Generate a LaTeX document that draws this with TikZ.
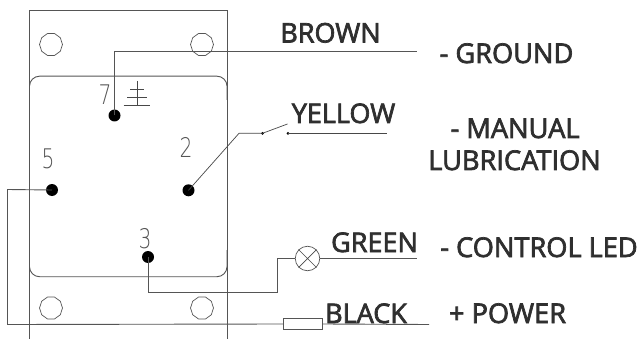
\documentclass[tikz,border=0pt]{standalone}
\usepackage{fontspec}
\setmainfont{Open Sans}
\newfontfamily\labfont{Open Sans}[FakeBold=2.6]
\newfontfamily\digfont{DejaVu Sans ExtraLight}
\usetikzlibrary{shapes.geometric}
\definecolor{ink}{HTML}{2F2F2F}
\definecolor{wire}{HTML}{555555}
\tikzset{
  wireline/.style={draw=wire,line width=.9pt},
  thinwire/.style={draw=wire!85!black,line width=.7pt},
  pin/.style={circle,fill=black,inner sep=0pt,minimum size=12pt},
  tinypin/.style={circle,fill=black,inner sep=0pt,minimum size=3pt},
  hole/.style={regular polygon,regular polygon sides=10,draw=wire,line width=.7pt,inner sep=0pt,minimum size=23pt,fill=none},
  lamp/.style={circle,draw=wire,line width=.7pt,inner sep=0pt,minimum size=24.5pt,fill=white},
  resist/.style={rectangle,draw=wire,line width=.9pt,inner sep=0pt,minimum width=39pt,minimum height=11pt,fill=white},
  lab/.style={text=ink,font=\labfont\fontsize{27}{27}\selectfont,inner sep=0pt,anchor=base},
  rlab/.style={lab,font=\labfont\fontsize{27.2}{27.2}\selectfont},
  digit/.style={text=wire,font=\digfont\fontsize{27}{27}\selectfont,inner sep=0pt,anchor=base,xscale=.75}
}
\begin{document}
\begin{tikzpicture}[x=1pt,y=-1pt]
\useasboundingbox (0,0) rectangle (639,339);
\fill[white] (0,0) rectangle (639,339);
% plate
\draw[wireline] (29.5,339) -- (29.5,10.5) -- (227,10.5) -- (227,339);
\draw[wireline,rounded corners=10pt] (29.5,100) |- (227,76.2) -- (227,100);
\draw[wireline,rounded corners=10pt] (29.5,250) |- (227,276.7) -- (227,250);
\node[hole] (h1) at (51,44.5) {};
\node[hole] (h2) at (202,44.5) {};
\node[hole] (h3) at (51,308) {};
\node[hole] (h4) at (202,308) {};
% pins
\node[pin] (p7) at (114.5,115.5) {};
\node[pin] (p2) at (188.5,190.3) {};
\node[pin] (p5) at (52,190) {};
\node[pin] (p3) at (148,257) {};
% digits
\node[digit] (d7) at (105,105) {7};
\node[digit] (d5) at (48,168) {5};
\node[digit] (d2) at (186,158) {2};
\node[digit] (d3) at (145,248) {3};
% ground sign
\coordinate (g0) at (137,81);
\coordinate (g1) at (137,106);
\draw[thinwire] (g0) -- (g1);
\draw[thinwire] (130,89.3) -- (144,89.3) (127,97.7) -- (147,97.7) (123.5,105.7) -- (150,105.7);
% brown
\coordinate (brownEnd) at (417,51.5);
\draw[wireline] (p7.center) |- (brownEnd);
% yellow
\node[tinypin] (s1) at (262.5,133.3) {};
\node[tinypin] (s2) at (288,133.3) {};
\coordinate (bend2) at (239,133.3);
\coordinate (swTip) at (287.5,124);
\coordinate (yellowEnd) at (387,133.3);
\draw[thinwire] (p2.center) -- (bend2) -- (s1.center) -- (swTip);
\draw[thinwire] (s2.center) -- (yellowEnd);
% green
\node[lamp] (led) at (307.5,258.5) {};
\draw[thinwire] (led.45) -- (led.225) (led.135) -- (led.315);
\coordinate (c1) at (148,292);
\coordinate (c2) at (277,292);
\coordinate (c3) at (277,258.5);
\coordinate (greenEnd) at (417,258.5);
\draw[wireline] (p3.center) -- (c1) -- (c2) -- (c3) -- (led.west);
\draw[wireline] (led.east) -- (greenEnd);
% black
\node[resist] (res) at (303,324) {};
\coordinate (k1) at (7.5,189.5);
\coordinate (k2) at (7.5,324.5);
\coordinate (blackEnd) at (429,324.5);
\draw[wireline] (p5.center) -- (k1) -- (k2) -- (res.west);
\draw[wireline] (res.east) -- (blackEnd);
% labels
\node[lab] (brown) at (330.5,42.5) {BROWN};
\node[lab] (yellow) at (343.5,123) {YELLOW};
\node[lab] (green) at (374.5,252) {GREEN};
\node[lab] (black) at (366,323) {BLACK};
\node[rlab] (ground) at (506.5,63) {- GROUND};
\node[rlab] (manual) at (515,138) {- MANUAL};
\node[rlab] (lubric) at (514.5,170) {LUBRICATION};
\node[rlab] (control) at (539,257) {- CONTROL LED};
\node[rlab] (power) at (507.5,323) {+ POWER};
\end{tikzpicture}
\end{document}
